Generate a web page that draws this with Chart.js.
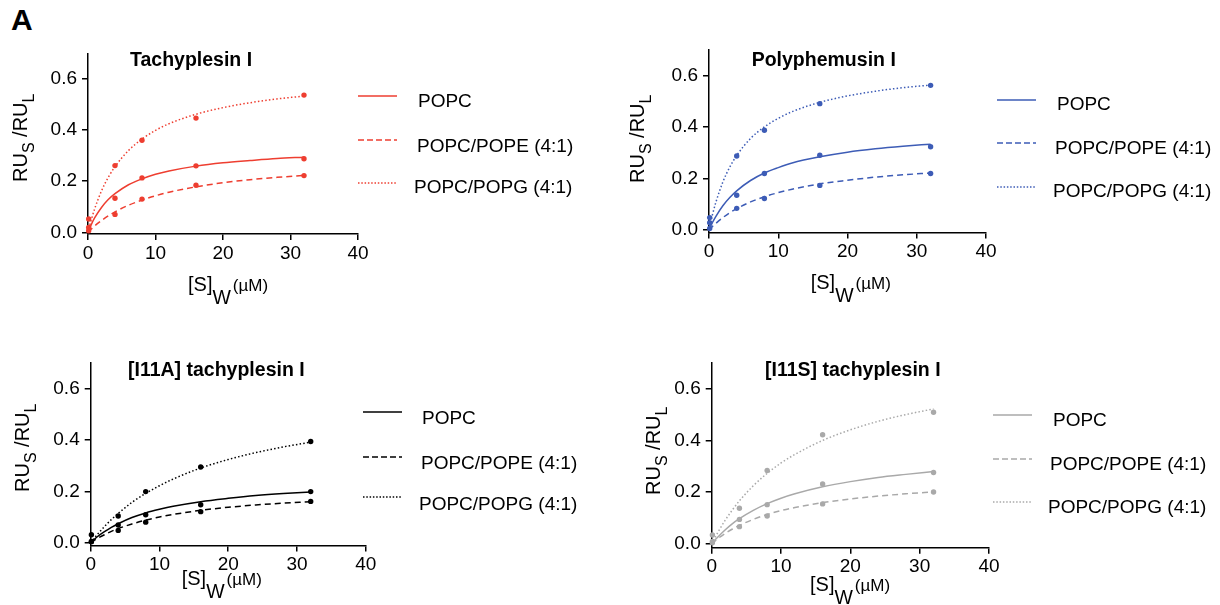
<!DOCTYPE html>
<html><head><meta charset="utf-8">
<script src="https://cdn.jsdelivr.net/npm/chart.js@4.4.1/dist/chart.umd.min.js"></script>
<style>
body{margin:0;background:#fff;}
#page{position:relative;width:1220px;height:605px;overflow:hidden;background:#fff;font-family:"Liberation Sans",Arial,Helvetica,sans-serif;color:#000;}
canvas{position:absolute;}
.t{position:absolute;white-space:nowrap;}
.title{font-weight:bold;font-size:19.5px;line-height:19.5px;}
.leg{font-size:19px;line-height:19px;}
.yt{font-size:20px;line-height:20px;transform:rotate(-90deg);transform-origin:0 0;}
.yt .sb{font-size:16px;position:relative;top:7px;}
.xt{font-size:20px;line-height:20px;}
.xt .w{font-size:19.5px;position:relative;top:13px;}
.xt .u{font-size:17px;margin-left:2px;}
svg{position:absolute;overflow:visible;}
</style></head><body><div id="page"></div>
<script>
// ---- data ----
const xTicks = [0, 10, 20, 30, 40];
const yTicks = [0, 0.2, 0.4, 0.6];
const seriesLabels = ["POPC", "POPC/POPE (4:1)", "POPC/POPG (4:1)"];
const panelTitles = ["Tachyplesin I", "Polyphemusin I", "[I11A] tachyplesin I", "[I11S] tachyplesin I"];
const pointX = [0.1, 4, 8, 16, 32];
const fitX = [0, 0.5, 1, 2, 3, 4, 6, 8, 10, 12, 16, 20, 24, 28, 32];

// Tachyplesin I
const tachyPOPC = [0.019, 0.133, 0.213, 0.26, 0.288];
const tachyPOPE = [0.006, 0.07, 0.13, 0.184, 0.222];
const tachyPOPG = [0.052, 0.261, 0.36, 0.447, 0.537];
const tachyFitPOPC = [0, 0.031, 0.057, 0.097, 0.128, 0.151, 0.186, 0.209, 0.227, 0.240, 0.259, 0.272, 0.281, 0.289, 0.294];
const tachyFitPOPE = [0, 0.013, 0.025, 0.046, 0.064, 0.080, 0.106, 0.126, 0.143, 0.157, 0.178, 0.194, 0.206, 0.215, 0.223];
const tachyFitPOPG = [0, 0.050, 0.093, 0.162, 0.215, 0.257, 0.320, 0.365, 0.399, 0.425, 0.462, 0.488, 0.507, 0.522, 0.533];
// Polyphemusin I
const polyPOPC = [0.028, 0.135, 0.219, 0.29, 0.323];
const polyPOPE = [0.006, 0.084, 0.122, 0.173, 0.219];
const polyPOPG = [0.048, 0.287, 0.387, 0.49, 0.561];
const polyFitPOPC = [0, 0.029, 0.053, 0.094, 0.126, 0.152, 0.192, 0.221, 0.242, 0.260, 0.284, 0.302, 0.315, 0.325, 0.333];
const polyFitPOPE = [0, 0.014, 0.026, 0.048, 0.067, 0.083, 0.109, 0.129, 0.145, 0.158, 0.179, 0.193, 0.205, 0.214, 0.221];
const polyFitPOPG = [0, 0.059, 0.108, 0.186, 0.244, 0.289, 0.355, 0.400, 0.433, 0.459, 0.495, 0.520, 0.538, 0.552, 0.562];
// [I11A] tachyplesin I
const i11aPOPC = [0.005, 0.069, 0.109, 0.148, 0.199];
const i11aPOPE = [0.004, 0.048, 0.08, 0.121, 0.161];
const i11aPOPG = [0.031, 0.104, 0.199, 0.295, 0.394];
const i11aFitPOPC = [0, 0.012, 0.024, 0.043, 0.060, 0.074, 0.098, 0.116, 0.130, 0.142, 0.160, 0.173, 0.184, 0.192, 0.198];
const i11aFitPOPE = [0, 0.009, 0.017, 0.031, 0.044, 0.055, 0.073, 0.088, 0.100, 0.110, 0.126, 0.138, 0.147, 0.154, 0.160];
const i11aFitPOPG = [0, 0.017, 0.033, 0.063, 0.090, 0.114, 0.157, 0.192, 0.222, 0.248, 0.291, 0.324, 0.351, 0.373, 0.392];
// [I11S] tachyplesin I
const i11sPOPC = [0.01, 0.095, 0.152, 0.232, 0.276];
const i11sPOPE = [0.005, 0.067, 0.108, 0.155, 0.201];
const i11sPOPG = [0.035, 0.138, 0.284, 0.422, 0.509];
const i11sFitPOPC = [0, 0.016, 0.030, 0.056, 0.079, 0.098, 0.130, 0.156, 0.177, 0.194, 0.221, 0.241, 0.257, 0.269, 0.280];
const i11sFitPOPE = [0, 0.012, 0.023, 0.042, 0.058, 0.072, 0.095, 0.114, 0.129, 0.141, 0.160, 0.174, 0.185, 0.194, 0.201];
const i11sFitPOPG = [0, 0.026, 0.050, 0.094, 0.132, 0.167, 0.225, 0.273, 0.313, 0.346, 0.400, 0.441, 0.474, 0.500, 0.522];

// ---- layout / style ----
const FONT = '"Liberation Sans", Arial, Helvetica, sans-serif';
const dashes = [[], [6, 4], [1.5, 2.2]];
const legendDash = ["", "6,3", "1.5,1.8"];
const panels = [
  {color: "#ee3e30", pts: [tachyPOPC, tachyPOPE, tachyPOPG], fits: [tachyFitPOPC, tachyFitPOPE, tachyFitPOPG],
   box: {x: 20, y: 25, w: 370, h: 250}, area: {l: 88, r: 358, y0: 232.3, y06: 79, b: 234},
   title: {x: 130, base: 66}, yt: {base: 27, start: 182}, xt: {x: 188, base: 291},
   leg: {lx: 358, ly: [96, 140, 183], tx: [418, 417, 414], ty: [100, 145, 186]}},
  {color: "#3d5cb6", pts: [polyPOPC, polyPOPE, polyPOPG], fits: [polyFitPOPC, polyFitPOPE, polyFitPOPG],
   box: {x: 640, y: 20, w: 380, h: 255}, area: {l: 709, r: 986, y0: 230, y06: 75.3, b: 232.5},
   title: {x: 751.7, base: 66.7}, yt: {base: 644, start: 183}, xt: {x: 810.7, base: 289},
   leg: {lx: 997, ly: [100, 143, 187], tx: [1057, 1055, 1053], ty: [103, 147, 190]}},
  {color: "#000000", pts: [i11aPOPC, i11aPOPE, i11aPOPG], fits: [i11aFitPOPC, i11aFitPOPE, i11aFitPOPG],
   box: {x: 20, y: 335, w: 375, h: 250}, area: {l: 90.7, r: 365.7, y0: 542.7, y06: 388.7, b: 545.5},
   title: {x: 128, base: 376}, yt: {base: 29, start: 492}, xt: {x: 181.7, base: 585},
   leg: {lx: 363, ly: [412, 457, 497], tx: [422, 421, 419], ty: [417, 462, 503]}},
  {color: "#a9a9a9", pts: [i11sPOPC, i11sPOPE, i11sPOPG], fits: [i11sFitPOPC, i11sFitPOPE, i11sFitPOPG],
   box: {x: 640, y: 335, w: 380, h: 250}, area: {l: 711.7, r: 989, y0: 544, y06: 388.7, b: 547.7},
   title: {x: 765, base: 376}, yt: {base: 660, start: 495}, xt: {x: 810, base: 590.7},
   leg: {lx: 993, ly: [415, 459, 502], tx: [1053, 1050, 1048], ty: [419, 463, 506]}}
];

const page = document.getElementById("page");
function addText(cls, html, left, top) {
  const d = document.createElement("div");
  d.className = "t " + cls;
  d.innerHTML = html;
  d.style.left = left + "px";
  d.style.top = top + "px";
  page.appendChild(d);
  return d;
}
addText("", "A", 11, 4.5).style.cssText += "font-weight:bold;font-size:30px;line-height:30px;";

const Y_AXIS_W = 50, X_AXIS_H = 30;
panels.forEach((p, k) => {
  const c = document.createElement("canvas");
  c.width = p.box.w; c.height = p.box.h;
  c.style.left = p.box.x + "px"; c.style.top = p.box.y + "px";
  c.style.width = p.box.w + "px"; c.style.height = p.box.h + "px";
  page.appendChild(c);
  const a = p.area;
  const pxPerUnit = (a.y0 - a.y06) / 0.6;
  const top = a.y0 - pxPerUnit * 0.7;
  const yMin = -(a.b - a.y0) / pxPerUnit;
  const padding = {
    left: a.l - p.box.x - Y_AXIS_W,
    right: p.box.x + p.box.w - a.r,
    top: top - p.box.y,
    bottom: p.box.y + p.box.h - a.b - X_AXIS_H
  };
  const datasets = [];
  p.fits.forEach((f, i) => datasets.push({
    label: seriesLabels[i] + " fit",
    data: fitX.map((x, j) => ({x: x, y: f[j]})),
    showLine: true, borderColor: p.color, borderWidth: 1.5, borderDash: dashes[i],
    pointRadius: 0, cubicInterpolationMode: "monotone", fill: false, clip: false
  }));
  p.pts.forEach((v, i) => datasets.push({
    label: seriesLabels[i],
    data: pointX.map((x, j) => ({x: x, y: v[j]})),
    showLine: false, backgroundColor: p.color, borderColor: p.color, borderWidth: 0,
    pointRadius: 2.7, clip: false
  }));
  const grid = {drawOnChartArea: false, drawTicks: true, tickLength: 6, color: "#000", lineWidth: 1.5};
  const border = {display: true, color: "#000", width: 1.5};
  new Chart(c, {
    type: "scatter",
    data: {datasets},
    options: {
      responsive: false, animation: false, devicePixelRatio: 1,
      layout: {padding},
      plugins: {legend: {display: false}, tooltip: {enabled: false}, title: {display: false}},
      scales: {
        x: {type: "linear", min: 0, max: 40,
            afterFit(s) { s.height = X_AXIS_H; },
            afterBuildTicks(s) { s.ticks = xTicks.map(v => ({value: v})); },
            ticks: {font: {size: 19, family: FONT}, color: "#000", padding: 2, maxRotation: 0, callback: v => String(v)},
            grid, border},
        y: {type: "linear", min: yMin, max: 0.7,
            afterFit(s) { s.width = Y_AXIS_W; },
            afterBuildTicks(s) { s.ticks = yTicks.map(v => ({value: v})); },
            ticks: {font: {size: 19, family: FONT}, color: "#000", padding: 5, callback: v => Number(v).toFixed(1)},
            grid, border}
      }
    }
  });
  // title
  addText("title", panelTitles[k], p.title.x, p.title.base - 16.5);
  // y axis title (rotated)
  addText("yt", "RU<span class='sb'>S</span> /RU<span class='sb'>L</span>", p.yt.base - 17, p.yt.start);
  // x axis title
  addText("xt", "[S]<span class='w'>W</span><span class='u'>(µM)</span>", p.xt.x, p.xt.base - 17);
  // legend
  seriesLabels.forEach((lab, i) => {
    const s = document.createElementNS("http://www.w3.org/2000/svg", "svg");
    s.setAttribute("width", "40"); s.setAttribute("height", "4");
    s.style.left = p.leg.lx + "px"; s.style.top = (p.leg.ly[i] - 2) + "px";
    const ln = document.createElementNS("http://www.w3.org/2000/svg", "line");
    ln.setAttribute("x1", "0"); ln.setAttribute("x2", "39"); ln.setAttribute("y1", "2"); ln.setAttribute("y2", "2");
    ln.setAttribute("stroke", p.color); ln.setAttribute("stroke-width", "1.6");
    if (legendDash[i]) ln.setAttribute("stroke-dasharray", legendDash[i]);
    s.appendChild(ln);
    page.appendChild(s);
    addText("leg", lab, p.leg.tx[i], p.leg.ty[i] - 9.5);
  });
});
</script></body></html>
